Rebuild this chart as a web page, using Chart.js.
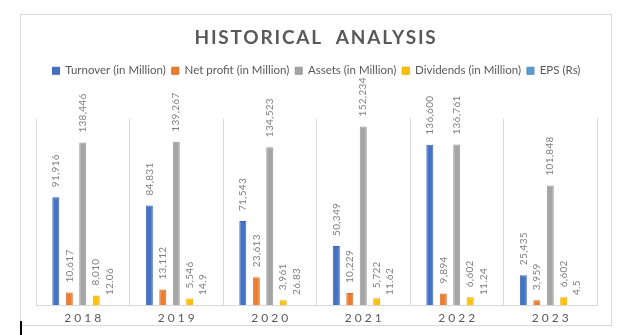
<!DOCTYPE html>
<html>
<head>
<meta charset="utf-8">
<script src="https://cdn.jsdelivr.net/npm/chart.js@4.4.0/dist/chart.umd.min.js"></script>
<style>
  html, body { margin: 0; padding: 0; background: #fff; }
  #wrap { width: 628px; height: 335px; }
</style>
</head>
<body>
<div id="wrap"><canvas id="myChart" width="628" height="335"></canvas></div>
<script>
'use strict';

// chart data

let years = ['2018', '2019', '2020', '2021', '2022', '2023'];
let turnover = [91916, 84831, 71543, 50349, 136600, 25435];
let netProfit = [10617, 13112, 23613, 10229, 9894, 3959];
let assets = [138446, 139267, 134523, 152234, 136761, 101848];
let dividends = [8010, 5546, 3961, 5722, 6602, 6602];
let eps = [12.06, 14.9, 26.83, 11.62, 11.24, 4.5];

let textGray = '#595959';

// plugins

// frame round the chart, the title and the odd black mark at the bottom left
let framePlugin = {
  id: 'frame',
  beforeDraw: function (chart) {
    let ctx = chart.ctx;
    ctx.save();
    ctx.fillStyle = '#fff';
    ctx.fillRect(0, 0, chart.width, chart.height);
    ctx.strokeStyle = '#d9d9d9';
    ctx.lineWidth = 1;
    ctx.strokeRect(20.5, 14.5, 591, 311);
    ctx.fillStyle = '#000';
    ctx.fillRect(20, 321, 2, 14);

    ctx.fillStyle = textGray;
    ctx.font = 'bold 19px Lato';
    ctx.letterSpacing = '1.8px';
    ctx.textAlign = 'center';
    ctx.textBaseline = 'middle';
    ctx.fillText('HISTORICAL  ANALYSIS', 316, 38);
    ctx.restore();
  }
};

// push the plot area down under the legend
let legendGapPlugin = {
  id: 'legendGap',
  beforeInit: function (chart) {
    let fit = chart.legend.fit;
    chart.legend.fit = function () {
      fit.call(this);
      this.height += 32;
    };
  }
};

// rotated value labels over the bars and spaced year labels under them
let labelPlugin = {
  id: 'barLabels',
  afterDatasetsDraw: function (chart) {
    let ctx = chart.ctx;
    ctx.save();
    ctx.fillStyle = '#7f7f7f';
    ctx.font = '10px Lato';
    ctx.letterSpacing = '0.3px';
    ctx.textAlign = 'left';
    ctx.textBaseline = 'middle';
    chart.data.datasets.forEach(function (ds, i) {
      let meta = chart.getDatasetMeta(i);
      meta.data.forEach(function (bar, j) {
        let v = ds.data[j];
        let txt = i === 4 ? String(v) : v.toLocaleString('en-US');
        ctx.save();
        ctx.translate(bar.x, bar.y - 10);
        ctx.rotate(-Math.PI / 2);
        ctx.fillText(txt, 0, 0);
        ctx.restore();
      });
    });

    let xScale = chart.scales.x;
    ctx.fillStyle = textGray;
    ctx.font = '12px Lato';
    ctx.letterSpacing = '3px';
    ctx.textAlign = 'center';
    years.forEach(function (y, i) {
      ctx.fillText(y, xScale.getPixelForValue(i) + 1.5, 318);
    });
    ctx.restore();
  }
};

function makeSet(label, data, color, edge) {
  return {
    label: label,
    data: data,
    backgroundColor: color,
    borderColor: edge,
    borderWidth: 1,
    categoryPercentage: 0.72,
    barPercentage: 0.52
  };
}

const data = {
  labels: years,
  datasets: [
    makeSet('Turnover (in Million)', turnover, '#4472C4', '#3a63ad'),
    makeSet('Net profit (in Million)', netProfit, '#ED7D31', '#d66e28'),
    makeSet('Assets (in Million)', assets, '#A5A5A5', '#969696'),
    makeSet('Dividends (in Million)', dividends, '#FFC000', '#e6ad00'),
    makeSet('EPS (Rs)', eps, '#5B9BD5', '#4f8bc2')
  ]
};

const config = {
  type: 'bar',
  data: data,
  options: {
    responsive: false,
    animation: false,
    layout: {
      padding: { top: 59, left: 36, right: 31, bottom: 30 }
    },
    plugins: {
      legend: {
        position: 'top',
        labels: {
          boxWidth: 7,
          boxHeight: 7,
          padding: 6,
          color: textGray,
          font: { family: 'Lato', size: 11.5 }
        }
      },
      title: { display: false },
      tooltip: { enabled: false }
    },
    scales: {
      x: {
        offset: true,
        grid: {
          display: true,
          offset: true,
          color: '#d9d9d9',
          drawTicks: false
        },
        border: { display: true, color: '#d9d9d9' },
        ticks: { display: false }
      },
      y: {
        display: false,
        min: 0,
        max: 159000
      }
    }
  },
  plugins: [framePlugin, legendGapPlugin, labelPlugin]
};

let canvasChart = document.getElementById('myChart');
const myChart = new Chart(canvasChart, config);
</script>
</body>
</html>
